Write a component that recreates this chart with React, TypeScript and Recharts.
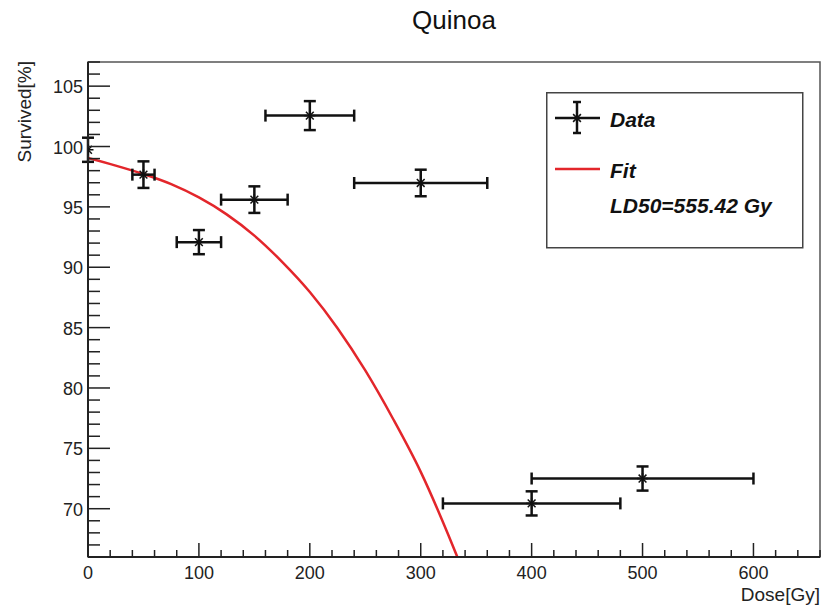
import React from 'react';
import { ComposedChart, Scatter, Line, XAxis, YAxis, ErrorBar, ReferenceArea, Legend } from 'recharts';

// Measured data points
const doses = [0, 50, 100, 150, 200, 300, 400, 500];
const survived = [99.73, 97.67, 92.08, 95.6, 102.56, 96.98, 70.44, 72.5];
const doseErr = [0, 10, 20, 30, 40, 60, 80, 100];
const survivedErr = [1.0, 1.1, 1.0, 1.1, 1.2, 1.1, 1.0, 1.0];

// Fit curve
const fitDose = [0, 25, 50, 75, 100, 125, 150, 175, 200, 225, 250, 275, 300, 325, 333];
const fitSurvived = [99.05, 98.42, 97.72, 96.88, 95.78, 94.38, 92.62, 90.45, 87.95, 84.95, 81.45, 77.45, 73.05, 67.8, 66.0];

// Axis ticks
const xMajor = [0, 100, 200, 300, 400, 500, 600];
const xMinorStep = 20;
const yMajor = [70, 75, 80, 85, 90, 95, 100, 105];
const yMinorStep = 1;
const xDomain = [0, 660];
const yDomain = [66, 107];

const xTicks: number[] = [];
for (let v = xDomain[0]; v <= xDomain[1]; v += xMinorStep) xTicks.push(v);
const yTicks: number[] = [];
for (let v = yDomain[0]; v <= yDomain[1]; v += yMinorStep) yTicks.push(v);

const points = doses.map((d, i) => ({ x: d, y: survived[i], xe: doseErr[i], ye: survivedErr[i] }));
const fit = fitDose.map((d, i) => ({ x: d, y: fitSurvived[i] }));

const FONT = '"Liberation Sans", Arial, Helvetica, sans-serif';
const AX = '#222';

const Asterisk = (props: any) => {
  const { cx, cy } = props;
  const r = 5.5;
  const d = r * 0.707;
  return (
    <g stroke="#111" strokeWidth={1.5}>
      <line x1={cx - r} x2={cx + r} y1={cy} y2={cy} />
      <line x1={cx} x2={cx} y1={cy - r} y2={cy + r} />
      <line x1={cx - d} x2={cx + d} y1={cy - d} y2={cy + d} />
      <line x1={cx - d} x2={cx + d} y1={cy + d} y2={cy - d} />
    </g>
  );
};

const YTick = (props: any) => {
  const { x, y, payload } = props;
  const v = payload.value;
  const major = yMajor.includes(v);
  return (
    <g>
      <line x1={x} x2={x + (major ? 22 : 12)} y1={y} y2={y} stroke={AX} strokeWidth={1.5} />
      {major && (
        <text x={x - 5} y={y + 7} textAnchor="end" fontSize={18} fill="#222" fontFamily={FONT}>
          {v}
        </text>
      )}
    </g>
  );
};

const XTick = (props: any) => {
  const { x, y, payload } = props;
  const v = payload.value;
  const major = xMajor.includes(v);
  return (
    <g>
      <line x1={x} x2={x} y1={y} y2={y - (major ? 14 : 7)} stroke={AX} strokeWidth={1.5} />
      {major && (
        <text x={x} y={y + 22} textAnchor="middle" fontSize={18} fill="#222" fontFamily={FONT}>
          {v}
        </text>
      )}
    </g>
  );
};

const LegendBox = () => (
  <svg width={258} height={157} style={{ display: 'block' }}>
    <rect x={0.75} y={0.75} width={256} height={155} fill="#fff" stroke="#444" strokeWidth={1.5} />
    <g stroke="#111" strokeWidth={2.5}>
      <line x1={9} x2={54} y1={26} y2={26} />
      <line x1={31} x2={31} y1={10} y2={41} />
      <line x1={27} x2={35} y1={10} y2={10} />
      <line x1={27} x2={35} y1={41} y2={41} />
    </g>
    <Asterisk cx={31} cy={26} />
    <text x={64} y={35} fontSize={21} fontWeight="bold" fontStyle="italic" fill="#111" fontFamily={FONT}>Data</text>
    <line x1={9} x2={54} y1={77} y2={77} stroke="#e3262b" strokeWidth={2.5} />
    <text x={64} y={86} fontSize={21} fontWeight="bold" fontStyle="italic" fill="#111" fontFamily={FONT}>Fit</text>
    <text x={64} y={121} fontSize={21} fontWeight="bold" fontStyle="italic" fill="#111" fontFamily={FONT}>LD50=555.42 Gy</text>
  </svg>
);

export default function App() {
  return (
    <div style={{ position: 'absolute', left: 0, top: 0, background: '#fff' }}>
      <ComposedChart width={823} height={608} margin={{ top: 62, right: 3, left: 87, bottom: 50 }}>
        <XAxis
          type="number"
          dataKey="x"
          domain={xDomain}
          ticks={xTicks}
          interval={0}
          allowDataOverflow
          height={1}
          tickSize={0}
          tickMargin={0}
          tickLine={false}
          tick={<XTick />}
          axisLine={{ stroke: AX, strokeWidth: 2 }}
          label={{
            content: (p: any) => {
              const vb = p.viewBox || {};
              return (
                <text x={vb.x + vb.width} y={vb.y + 44} textAnchor="end" fontSize={19} fill="#222" fontFamily={FONT}>
                  Dose[Gy]
                </text>
              );
            },
          }}
        />
        <YAxis
          type="number"
          dataKey="y"
          domain={yDomain}
          ticks={yTicks}
          interval={0}
          allowDataOverflow
          width={1}
          tickSize={0}
          tickMargin={0}
          tickLine={false}
          tick={<YTick />}
          axisLine={{ stroke: AX, strokeWidth: 2 }}
          label={{
            content: (p: any) => {
              const vb = p.viewBox || {};
              const top = 61;
              return (
                <g>
                  <text
                    x={31}
                    y={top}
                    textAnchor="end"
                    fontSize={19}
                    fill="#222"
                    fontFamily={FONT}
                    transform={`rotate(-90, 31, ${top})`}
                  >
                    Survived[%]
                  </text>
                  <text x={454} y={29} textAnchor="middle" fontSize={26} fill="#111" fontFamily={FONT}>
                    Quinoa
                  </text>
                </g>
              );
            },
          }}
        />
        <ReferenceArea x1={xDomain[0]} x2={xDomain[1]} y1={yDomain[0]} y2={yDomain[1]} fill="none" stroke="#555" strokeWidth={1.5} fillOpacity={0} />
        <Line
          data={fit}
          dataKey="y"
          type="monotone"
          stroke="#e3262b"
          strokeWidth={2.5}
          dot={false}
          activeDot={false}
          isAnimationActive={false}
          legendType="none"
        />
        <Scatter data={points} dataKey="y" shape={<Asterisk />} isAnimationActive={false}>
          <ErrorBar dataKey="xe" direction="x" width={6} stroke="#111" strokeWidth={2.5} isAnimationActive={false} />
          <ErrorBar dataKey="ye" direction="y" width={6} stroke="#111" strokeWidth={2.5} isAnimationActive={false} />
        </Scatter>
        <Legend
          layout="horizontal"
          verticalAlign="middle"
          align="center"
          content={() => <LegendBox />}
          wrapperStyle={{ position: 'absolute', left: 546, top: 92, width: 258, height: 157 }}
        />
      </ComposedChart>
    </div>
  );
}
